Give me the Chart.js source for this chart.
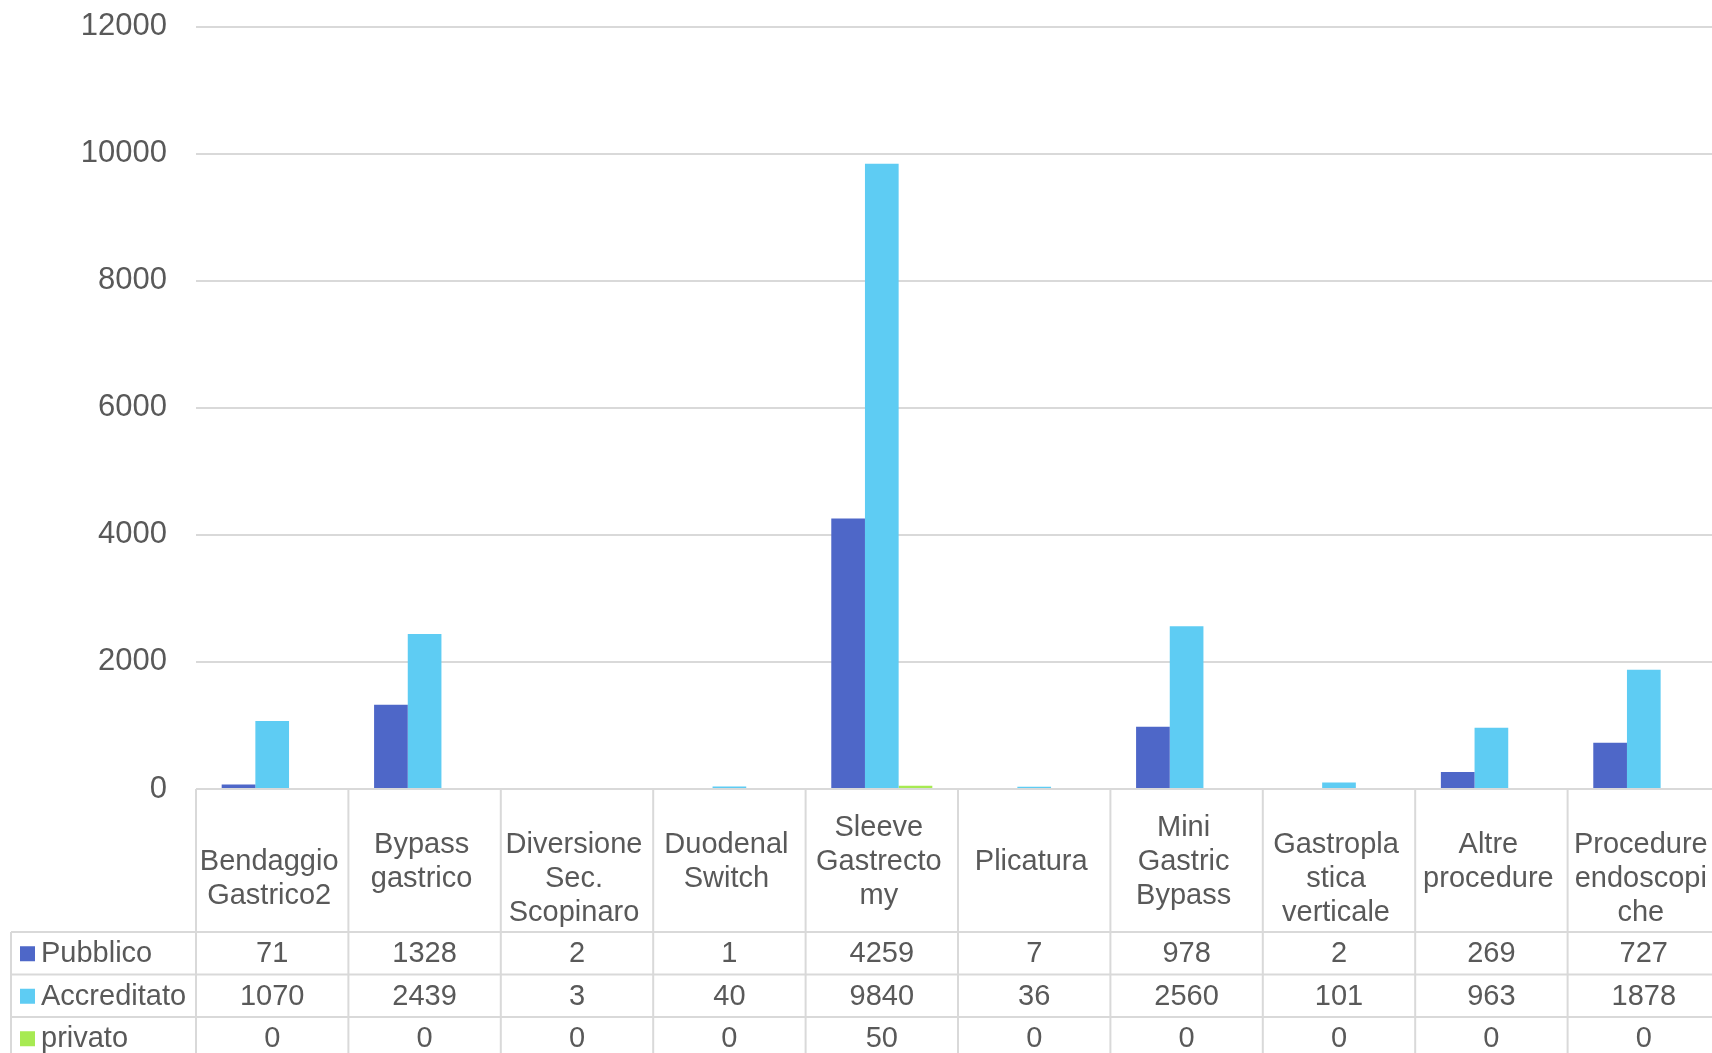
<!DOCTYPE html>
<html>
<head>
<meta charset="utf-8">
<script src="https://cdn.jsdelivr.net/npm/chart.js@4/dist/chart.umd.min.js"></script>
<style>
  html, body { margin: 0; padding: 0; background: #fff; overflow: hidden; }
  #wrap { width: 1730px; height: 1085px; margin-top: -21px; }
</style>
</head>
<body>
<div id="wrap"><canvas id="chart" width="1730" height="1085"></canvas></div>
<script>
// dati
const categories = [
  ["Bendaggio", "Gastrico2"],
  ["Bypass", "gastrico"],
  ["Diversione", "Sec.", "Scopinaro"],
  ["Duodenal", "Switch"],
  ["Sleeve", "Gastrecto", "my"],
  ["Plicatura"],
  ["Mini", "Gastric", "Bypass"],
  ["Gastropla", "stica", "verticale"],
  ["Altre", "procedure"],
  ["Procedure", "endoscopi", "che"]
];
const seriesNames = ["Pubblico", "Accreditato", "privato"];
const pubblico    = [71, 1328, 2, 1, 4259, 7, 978, 2, 269, 727];
const accreditato = [1070, 2439, 3, 40, 9840, 36, 2560, 101, 963, 1878];
const privato     = [0, 0, 0, 0, 50, 0, 0, 0, 0, 0];
const yMax = 12000;
const yStep = 2000;

// stile
const colors = ["#4E67C8", "#5ECCF3", "#A7EA52"];
const textColor = "#595959";
const lineColor = "#D9D9D9";
const fontFamily = "'Liberation Sans', Arial, sans-serif";
const fontSize = 29;

// come Excel centra verticalmente le intestazioni (righe "virtuali")
const headerAnchorLines = [1, 2, 2, 2, 3, 1, 3, 2, 2, 2];

const tableLeft = 11;
const headerHeight = 143;
const rowHeight = 42.5;
const lineHeight = 34;

/* ===============================
   TABELLA DATI
================================ */

const dataTablePlugin = {
  id: "dataTable",
  afterDraw(chart) {
    const ctx = chart.ctx;
    const area = chart.chartArea;
    const n = categories.length;
    const colW = (area.right - area.left) / n;
    const top = area.bottom;
    const rowsTop = top + headerHeight;
    const rows = [pubblico, accreditato, privato];
    const bottom = rowsTop + rows.length * rowHeight;

    ctx.save();
    ctx.strokeStyle = lineColor;
    ctx.lineWidth = 2;

    // linee orizzontali
    ctx.beginPath();
    ctx.moveTo(area.left, top);
    ctx.lineTo(area.right, top);
    for (let r = 0; r <= rows.length; r++) {
      const y = rowsTop + r * rowHeight;
      ctx.moveTo(tableLeft, y);
      ctx.lineTo(area.right, y);
    }
    // linee verticali
    for (let i = 0; i <= n; i++) {
      const x = area.left + i * colW;
      ctx.moveTo(x, top);
      ctx.lineTo(x, bottom);
    }
    ctx.moveTo(tableLeft, rowsTop);
    ctx.lineTo(tableLeft, bottom);
    ctx.stroke();

    ctx.font = `${fontSize}px ${fontFamily}`;
    ctx.fillStyle = textColor;
    ctx.textBaseline = "middle";
    ctx.textAlign = "center";

    // intestazioni categorie
    categories.forEach((lines, i) => {
      const cx = chart.scales.x.getPixelForValue(i) - 3;
      const firstY = top + headerHeight / 2 + 1 - (headerAnchorLines[i] - 1) * lineHeight / 2;
      lines.forEach((line, k) => {
        ctx.fillText(line, cx, firstY + k * lineHeight);
      });
    });

    // righe valori
    rows.forEach((values, r) => {
      const cy = rowsTop + r * rowHeight + rowHeight / 2 + 1;
      values.forEach((v, i) => {
        const cx = chart.scales.x.getPixelForValue(i);
        ctx.fillText(String(v), cx, cy);
      });
      // legenda
      ctx.fillStyle = colors[r];
      ctx.fillRect(20, cy - 8, 15, 15);
      ctx.fillStyle = textColor;
      ctx.textAlign = "left";
      ctx.fillText(seriesNames[r], 41, cy);
      ctx.textAlign = "center";
    });

    ctx.restore();
  }
};

/* ===============================
   GRAFICO
================================ */

new Chart(document.getElementById("chart"), {
  type: "bar",
  data: {
    labels: categories.map(c => c.join(" ")),
    datasets: [
      { label: seriesNames[0], data: pubblico, backgroundColor: colors[0] },
      { label: seriesNames[1], data: accreditato, backgroundColor: colors[1] },
      { label: seriesNames[2], data: privato, backgroundColor: colors[2] }
    ]
  },
  options: {
    responsive: false,
    animation: false,
    layout: { padding: { top: 4, right: 10, bottom: 275, left: 0 } },
    datasets: { bar: { categoryPercentage: 0.663, barPercentage: 1 } },
    plugins: {
      legend: { display: false },
      tooltip: { enabled: false }
    },
    scales: {
      x: { display: false },
      y: {
        min: 0,
        max: yMax,
        afterFit(scale) { scale.width = 196; },
        border: { display: false },
        grid: { color: lineColor, lineWidth: 2, drawTicks: false },
        ticks: {
          stepSize: yStep,
          padding: 29,
          color: textColor,
          font: { family: fontFamily, size: 31 },
          callback: v => String(v)
        }
      }
    }
  },
  plugins: [dataTablePlugin]
});
</script>
</body>
</html>
